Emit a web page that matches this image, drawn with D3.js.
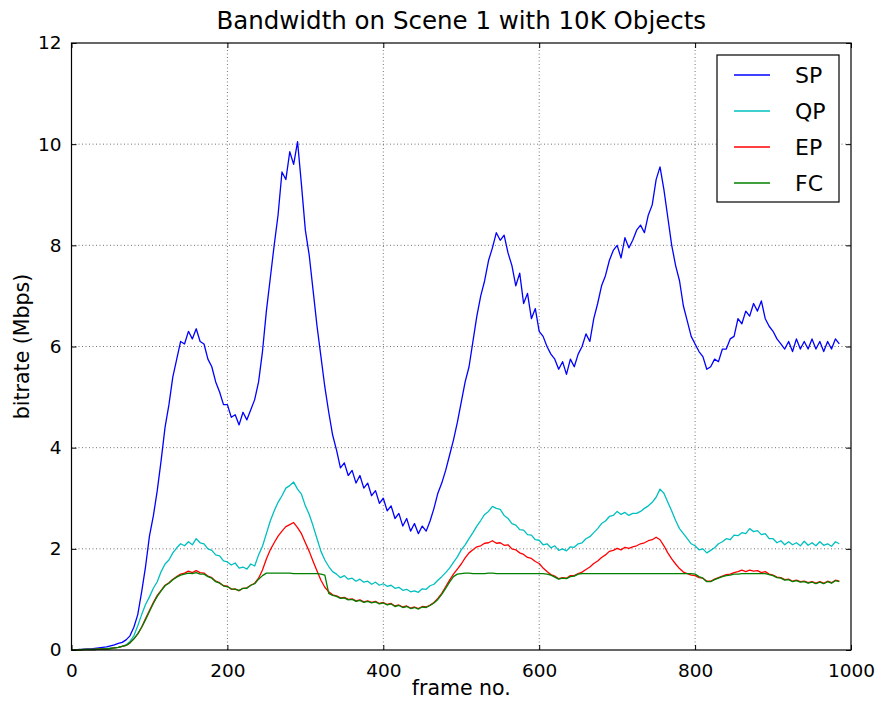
<!DOCTYPE html>
<html>
<head>
<meta charset="utf-8">
<script src="https://cdn.jsdelivr.net/npm/d3@7"></script>
<style>
  body { margin: 0; background: #fff; }
  svg { display: block; font-family: "DejaVu Sans", sans-serif; }
</style>
</head>
<body>
<div id="chart"></div>
<script>
// frame numbers, one sample every 5 frames
const frames = d3.range(0, 990, 5);

const seriesNames = ["SP", "QP", "EP", "FC"];
const seriesColors = ["#0000ff", "#00bfbf", "#ff0000", "#008000"];

const xTicks = [0, 200, 400, 600, 800, 1000];
const yTicks = [0, 2, 4, 6, 8, 10, 12];

const spValues = [
  0.00,0.00,0.01,0.01,0.02,0.02,0.03,0.04,0.05,0.06,
  0.08,0.10,0.13,0.15,0.20,0.28,0.45,0.70,1.15,1.65,
  2.25,2.65,3.15,3.75,4.40,4.85,5.40,5.75,6.10,6.05,
  6.30,6.15,6.35,6.10,6.05,5.75,5.60,5.30,5.10,4.85,
  4.85,4.60,4.65,4.45,4.70,4.55,4.75,4.95,5.30,5.90,
  6.70,7.35,8.00,8.60,9.45,9.30,9.85,9.60,10.05,9.20,
  8.30,7.80,7.10,6.40,5.80,5.20,4.70,4.25,3.95,3.60,
  3.70,3.45,3.55,3.30,3.45,3.20,3.30,3.05,3.15,2.90,
  3.00,2.75,2.85,2.60,2.70,2.45,2.60,2.35,2.50,2.30,
  2.45,2.35,2.55,2.80,3.10,3.30,3.55,3.85,4.15,4.50,
  4.90,5.30,5.60,6.10,6.60,7.00,7.30,7.70,7.95,8.25,
  8.10,8.20,7.85,7.60,7.20,7.45,6.85,7.05,6.55,6.75,
  6.30,6.20,6.00,5.85,5.75,5.55,5.70,5.45,5.75,5.60,
  5.85,6.00,6.25,6.10,6.55,6.85,7.20,7.40,7.70,7.90,
  8.00,7.75,8.15,7.95,8.10,8.30,8.40,8.25,8.60,8.80,
  9.30,9.55,9.10,8.55,8.00,7.60,7.30,6.80,6.50,6.20,
  6.05,5.90,5.80,5.55,5.60,5.75,5.70,5.95,5.95,6.15,
  6.20,6.55,6.45,6.70,6.60,6.85,6.70,6.90,6.55,6.40,
  6.30,6.15,6.05,5.95,6.10,5.90,6.15,5.95,6.10,5.95,
  6.15,5.95,6.10,5.90,6.10,5.95,6.15,6.05
];

const qpValues = [
  0.00,0.00,0.00,0.01,0.01,0.01,0.01,0.02,0.02,0.03,
  0.03,0.04,0.05,0.07,0.10,0.17,0.28,0.48,0.70,0.90,
  1.05,1.22,1.35,1.55,1.70,1.78,1.92,2.02,2.10,2.06,
  2.14,2.08,2.20,2.12,2.10,2.00,1.97,1.88,1.86,1.76,
  1.74,1.68,1.72,1.62,1.64,1.60,1.70,1.66,1.88,2.05,
  2.30,2.55,2.75,2.92,3.05,3.20,3.25,3.32,3.18,3.08,
  2.85,2.68,2.45,2.20,1.95,1.78,1.65,1.55,1.50,1.43,
  1.47,1.40,1.42,1.36,1.40,1.34,1.36,1.30,1.34,1.28,
  1.31,1.26,1.28,1.22,1.24,1.18,1.20,1.15,1.17,1.14,
  1.21,1.20,1.27,1.30,1.38,1.45,1.53,1.62,1.73,1.84,
  1.98,2.08,2.20,2.32,2.45,2.56,2.68,2.74,2.84,2.80,
  2.78,2.66,2.60,2.50,2.47,2.38,2.37,2.28,2.27,2.18,
  2.17,2.08,2.10,2.02,2.06,1.97,2.00,1.96,2.04,2.03,
  2.10,2.12,2.20,2.24,2.32,2.40,2.50,2.55,2.64,2.66,
  2.74,2.68,2.72,2.66,2.70,2.70,2.74,2.80,2.85,2.92,
  3.02,3.18,3.10,2.92,2.75,2.56,2.40,2.30,2.20,2.10,
  2.06,1.98,2.00,1.92,1.97,2.02,2.10,2.14,2.20,2.18,
  2.27,2.26,2.32,2.30,2.40,2.34,2.36,2.28,2.30,2.20,
  2.20,2.12,2.16,2.08,2.14,2.08,2.12,2.06,2.15,2.07,
  2.12,2.06,2.14,2.07,2.10,2.05,2.14,2.10
];

const epValues = [
  0.00,0.00,0.00,0.01,0.01,0.01,0.01,0.02,0.02,0.02,
  0.03,0.04,0.05,0.07,0.09,0.14,0.22,0.32,0.45,0.62,
  0.78,0.94,1.08,1.18,1.28,1.33,1.40,1.45,1.50,1.52,
  1.56,1.53,1.57,1.53,1.52,1.46,1.43,1.36,1.33,1.27,
  1.26,1.20,1.21,1.17,1.22,1.23,1.28,1.32,1.42,1.58,
  1.80,1.98,2.12,2.25,2.35,2.44,2.48,2.52,2.42,2.30,
  2.12,1.95,1.75,1.56,1.38,1.24,1.15,1.09,1.07,1.03,
  1.04,1.00,1.01,0.97,0.99,0.95,0.97,0.94,0.96,0.92,
  0.94,0.90,0.92,0.87,0.89,0.85,0.87,0.83,0.85,0.82,
  0.86,0.85,0.89,0.94,1.02,1.12,1.25,1.38,1.50,1.60,
  1.70,1.82,1.92,1.98,2.04,2.06,2.11,2.12,2.16,2.11,
  2.12,2.07,2.08,2.00,1.98,1.92,1.89,1.83,1.81,1.75,
  1.71,1.62,1.55,1.49,1.46,1.41,1.43,1.42,1.47,1.47,
  1.51,1.54,1.59,1.64,1.71,1.76,1.83,1.88,1.95,1.97,
  2.01,1.98,2.03,2.01,2.04,2.06,2.10,2.12,2.16,2.18,
  2.23,2.18,2.06,1.92,1.80,1.70,1.61,1.54,1.51,1.48,
  1.47,1.43,1.42,1.36,1.36,1.40,1.43,1.46,1.49,1.50,
  1.53,1.55,1.58,1.55,1.58,1.56,1.57,1.53,1.55,1.50,
  1.48,1.44,1.43,1.39,1.40,1.36,1.38,1.35,1.36,1.33,
  1.35,1.32,1.35,1.32,1.36,1.33,1.38,1.36
];

const fcValues = [
  0.00,0.00,0.00,0.01,0.01,0.01,0.01,0.02,0.02,0.02,
  0.03,0.04,0.05,0.07,0.09,0.14,0.22,0.32,0.45,0.60,
  0.76,0.92,1.06,1.17,1.27,1.32,1.39,1.44,1.48,1.50,
  1.52,1.51,1.53,1.50,1.50,1.45,1.42,1.35,1.32,1.27,
  1.25,1.21,1.20,1.18,1.22,1.22,1.28,1.31,1.40,1.47,
  1.52,1.52,1.52,1.52,1.52,1.52,1.52,1.51,1.51,1.51,
  1.51,1.51,1.51,1.51,1.50,1.48,1.12,1.08,1.06,1.02,
  1.03,0.99,1.00,0.96,0.98,0.94,0.96,0.93,0.95,0.91,
  0.93,0.89,0.91,0.86,0.88,0.84,0.86,0.82,0.84,0.81,
  0.85,0.84,0.88,0.93,1.00,1.10,1.22,1.34,1.45,1.50,
  1.51,1.52,1.52,1.51,1.51,1.51,1.51,1.52,1.52,1.51,
  1.51,1.51,1.51,1.51,1.51,1.51,1.51,1.51,1.51,1.51,
  1.51,1.51,1.50,1.48,1.44,1.40,1.42,1.41,1.45,1.46,
  1.50,1.51,1.51,1.51,1.51,1.51,1.51,1.51,1.51,1.51,
  1.51,1.51,1.51,1.51,1.51,1.51,1.51,1.51,1.51,1.51,
  1.51,1.51,1.51,1.51,1.51,1.51,1.51,1.51,1.51,1.51,
  1.50,1.45,1.42,1.35,1.35,1.39,1.42,1.45,1.47,1.48,
  1.50,1.50,1.51,1.51,1.51,1.51,1.51,1.51,1.51,1.49,
  1.47,1.43,1.42,1.38,1.39,1.35,1.37,1.34,1.35,1.32,
  1.34,1.31,1.34,1.31,1.35,1.32,1.37,1.35
];

const series = [
  { name: "SP", y: spValues },
  { name: "QP", y: qpValues },
  { name: "EP", y: epValues },
  { name: "FC", y: fcValues }
];

const width = 879, height = 703;
const margin = { top: 43, right: 28, bottom: 53, left: 71.5 };
const plotW = width - margin.left - margin.right;
const plotH = height - margin.top - margin.bottom;

const color = d3.scaleOrdinal().domain(seriesNames).range(seriesColors);

const x = d3.scaleLinear().domain([0, 1000]).range([0, plotW]);
const y = d3.scaleLinear().domain([0, 12]).range([plotH, 0]);

const svg = d3.select("#chart").append("svg")
  .attr("width", width)
  .attr("height", height);

svg.append("text")
  .attr("x", margin.left + plotW / 2)
  .attr("y", 29)
  .attr("text-anchor", "middle")
  .style("font-size", "24.5px")
  .text("Bandwidth on Scene 1 with 10K Objects");

const g = svg.append("g").attr("transform", `translate(${margin.left},${margin.top})`);

// dotted grid
g.append("g").selectAll("line").data(xTicks.slice(1, -1)).join("line")
  .attr("x1", d => x(d)).attr("x2", d => x(d))
  .attr("y1", 0).attr("y2", plotH)
  .attr("stroke", "#000").attr("stroke-opacity", 0.55)
  .attr("stroke-width", 1).attr("stroke-dasharray", "1,2.5");
g.append("g").selectAll("line").data(yTicks.slice(1, -1)).join("line")
  .attr("y1", d => y(d)).attr("y2", d => y(d))
  .attr("x1", 0).attr("x2", plotW)
  .attr("stroke", "#000").attr("stroke-opacity", 0.55)
  .attr("stroke-width", 1).attr("stroke-dasharray", "1,2.5");

const line = d3.line()
  .x(d => x(d[0]))
  .y(d => y(d[1]));

g.append("g").selectAll("path").data(series).join("path")
  .attr("fill", "none")
  .attr("stroke", d => color(d.name))
  .attr("stroke-width", 1.3)
  .attr("stroke-linejoin", "round")
  .attr("d", d => line(frames.map((f, i) => [f, d.y[i]])));

// axes, ticks pointing inward on all four sides
const tickLen = 5;
const xAxis = g.append("g").attr("transform", `translate(0,${plotH})`)
  .call(d3.axisBottom(x).tickValues(xTicks).tickSize(-tickLen).tickPadding(10).tickFormat(d3.format("d")));
const yAxis = g.append("g")
  .call(d3.axisLeft(y).tickValues(yTicks).tickSize(-tickLen).tickPadding(10).tickFormat(d3.format("d")));
g.append("g")
  .call(d3.axisTop(x).tickValues(xTicks).tickSize(-tickLen).tickFormat(""));
g.append("g").attr("transform", `translate(${plotW},0)`)
  .call(d3.axisRight(y).tickValues(yTicks).tickSize(-tickLen).tickFormat(""));

g.selectAll(".domain").remove();
g.selectAll(".tick line").attr("stroke", "#000");
g.selectAll(".tick text").attr("fill", "#000").style("font-size", "18.5px").style("font-family", "DejaVu Sans");
xAxis.selectAll(".tick text").attr("dy", "0.9em");

g.append("rect")
  .attr("width", plotW).attr("height", plotH)
  .attr("fill", "none").attr("stroke", "#000").attr("stroke-width", 1.2);

svg.append("text")
  .attr("x", margin.left + plotW / 2)
  .attr("y", 695)
  .attr("text-anchor", "middle")
  .style("font-size", "20.5px")
  .text("frame no.");

svg.append("text")
  .attr("transform", `translate(29,${margin.top + plotH / 2}) rotate(-90)`)
  .attr("text-anchor", "middle")
  .style("font-size", "20.5px")
  .text("bitrate (Mbps)");

// legend
const legend = svg.append("g").attr("transform", "translate(717,55)");
legend.append("rect")
  .attr("width", 122).attr("height", 147)
  .attr("fill", "#fff").attr("stroke", "#000").attr("stroke-width", 1.2);
const rows = legend.selectAll("g.row").data(seriesNames).join("g")
  .attr("class", "row")
  .attr("transform", (d, i) => `translate(0,${20 + i * 36})`);
rows.append("line")
  .attr("x1", 17).attr("x2", 53)
  .attr("stroke", d => color(d)).attr("stroke-width", 1.3);
rows.append("text")
  .attr("x", 78).attr("dy", "0.36em")
  .style("font-size", "22px")
  .text(d => d);
</script>
</body>
</html>
